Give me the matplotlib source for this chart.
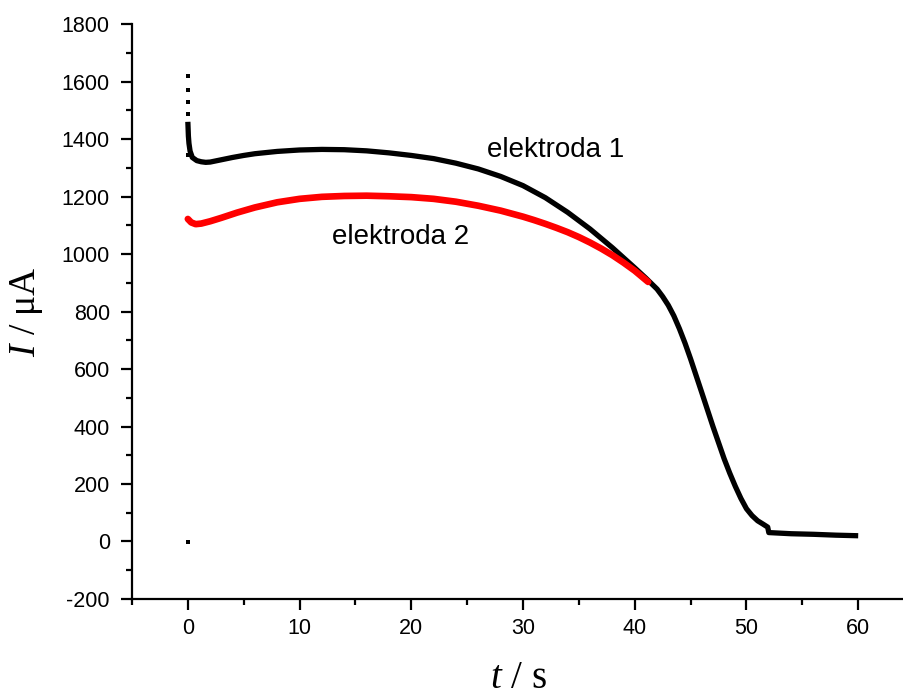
import matplotlib
matplotlib.use('Agg')
import matplotlib.pyplot as plt
from matplotlib.ticker import MultipleLocator

# elektroda 1 (black)
t1 = [0.0, 0.05, 0.1, 0.2, 0.4, 0.8, 1.2, 1.6, 2.0, 3, 4, 5, 6, 8, 10, 12, 14, 16, 18, 20,
      22, 24, 26, 28, 30, 32, 34, 36, 38, 40, 41, 42, 42.5, 43, 43.5, 44, 44.5, 45, 46, 47,
      48, 48.5, 49, 49.5, 50, 50.5, 51, 51.5, 51.9, 52.0, 54, 56, 58, 60]
i1 = [1460, 1410, 1385, 1358, 1336, 1325, 1321, 1319, 1320, 1328, 1336, 1343, 1349, 1357, 1362, 1364, 1363, 1359, 1352, 1343,
      1332, 1316, 1296, 1270, 1238, 1196, 1145, 1087, 1022, 952, 916, 878, 852, 822, 785, 740, 690, 635, 518, 400,
      288, 238, 192, 150, 114, 90, 72, 60, 50, 31, 27, 25, 22, 20]
# isolated points at t = 0
t1_dots = [0, 0, 0, 0, 0, 0]
i1_dots = [1620, 1570, 1529, 1487, 1344, -3]

# elektroda 2 (red)
t2 = [0, 0.3, 0.7, 1.2, 2, 3, 4.4, 6, 8, 10, 12, 14, 16, 18, 20, 22, 24, 26, 28, 30,
      31, 32, 33, 34, 35, 36, 37, 38, 39, 40, 41.2]
i2 = [1122, 1110, 1104, 1106, 1114, 1126, 1144, 1162, 1180, 1192, 1199, 1202, 1203, 1201, 1198, 1192, 1182, 1168, 1151, 1130,
      1118, 1105, 1091, 1076, 1059, 1040, 1019, 996, 970, 942, 903]

plt.rcParams['mathtext.fontset'] = 'custom'
plt.rcParams['mathtext.it'] = 'Liberation Serif:italic'
plt.rcParams['mathtext.rm'] = 'Liberation Serif'
plt.rcParams['axes.unicode_minus'] = False

fig = plt.figure(figsize=(9.04, 6.96), dpi=100)
ax = fig.add_axes([0.146, 0.1394, 0.854, 0.826])

ax.plot(t1, i1, color='black', lw=3.8, solid_capstyle='butt', solid_joinstyle='round', zorder=2)
ax.plot(t2, i2, color='red', lw=4.8, solid_capstyle='round', solid_joinstyle='round', zorder=3)
ax.scatter(t1_dots, i1_dots, s=12, marker='s', color='black', lw=0, zorder=4)

ax.text(32.9, 1362, 'elektroda 1', fontsize=20, family='Liberation Sans', ha='center', va='center')
ax.text(19.0, 1059, 'elektroda 2', fontsize=20, family='Liberation Sans', ha='center', va='center')

ax.set_xlim(-5, 64.1)
ax.set_ylim(-200, 1800)
ax.xaxis.set_major_locator(MultipleLocator(10))
ax.xaxis.set_minor_locator(MultipleLocator(5))
ax.yaxis.set_major_locator(MultipleLocator(200))
ax.yaxis.set_minor_locator(MultipleLocator(100))

for s in ['top', 'right']:
    ax.spines[s].set_visible(False)
for s in ['left', 'bottom']:
    ax.spines[s].set_linewidth(1.6)

ax.tick_params(which='major', direction='out', length=8, width=1.6, labelsize=15.5)
ax.tick_params(axis='y', which='major', pad=8)
ax.tick_params(axis='x', which='major', pad=6)
ax.tick_params(which='minor', direction='out', length=4.5, width=1.6)
for lbl in ax.get_xticklabels() + ax.get_yticklabels():
    lbl.set_family('Liberation Sans')

ax.set_xlabel(r'$t$ / s', fontsize=28, family='Liberation Serif', labelpad=15)
ax.set_ylabel(r'$I$ / μA', fontsize=27, family='Liberation Serif', labelpad=12)

fig.savefig('out.png', dpi=100)
